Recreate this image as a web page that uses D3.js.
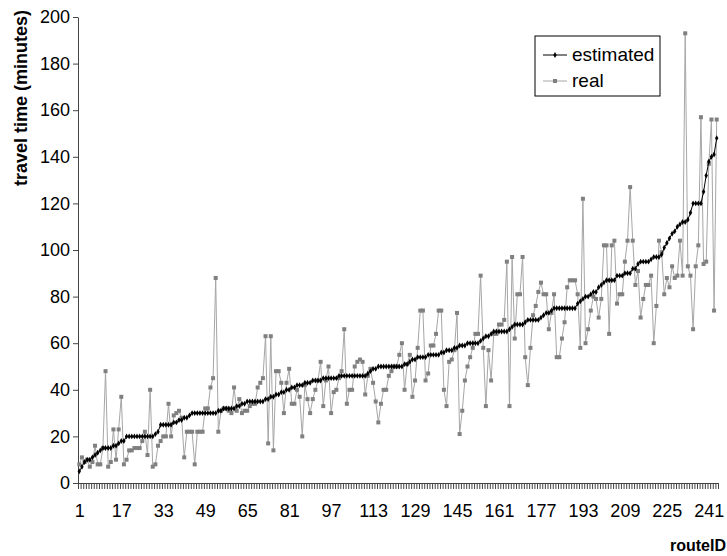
<!DOCTYPE html>
<html>
<head>
<meta charset="utf-8">
<script src="https://cdn.jsdelivr.net/npm/d3@7"></script>
<style>
  body { margin: 0; background: #fff; }
  svg { font-family: "Liberation Sans", Arial, sans-serif; }
</style>
</head>
<body>
<svg id="chart"></svg>
<script>
// routeID tick labels (every 16th route)
var xTickLabels = [1, 17, 33, 49, 65, 81, 97, 113, 129, 145, 161, 177, 193, 209, 225, 241];
var yTickValues = [0, 20, 40, 60, 80, 100, 120, 140, 160, 180, 200];
var seriesNames = ['estimated', 'real'];

// estimated travel time per route (sorted)
var estimated = [
  5, 7, 9, 10, 10, 11, 12, 13, 14, 15,
  15, 15, 15, 16, 16, 17, 18, 18, 20, 20,
  20, 20, 20, 20, 20, 20, 20, 20, 20, 21,
  22, 25, 25, 25, 25, 25, 26, 26, 27, 27,
  28, 28, 29, 30, 30, 30, 30, 30, 30, 30,
  30, 30, 30, 31, 31, 32, 32, 32, 32, 32,
  33, 33, 34, 34, 35, 35, 35, 35, 35, 35,
  35, 36, 36, 37, 37, 38, 38, 39, 39, 40,
  40, 41, 41, 42, 42, 42, 43, 43, 43, 44,
  44, 44, 44, 45, 45, 45, 45, 45, 45, 46,
  46, 46, 46, 46, 46, 46, 46, 46, 46, 46,
  47, 48, 49, 49, 50, 50, 50, 50, 50, 50,
  50, 50, 50, 50, 51, 51, 52, 53, 53, 54,
  54, 54, 54, 55, 55, 55, 55, 55, 56, 56,
  57, 57, 57, 58, 58, 59, 59, 59, 60, 60,
  60, 60, 60, 61, 62, 63, 63, 64, 65, 65,
  65, 65, 65, 65, 66, 67, 68, 68, 68, 68,
  69, 70, 70, 70, 70, 70, 71, 72, 73, 73,
  74, 75, 75, 75, 75, 75, 75, 75, 75, 75,
  77, 78, 79, 80, 80, 81, 82, 82, 84, 85,
  86, 87, 87, 87, 87, 89, 89, 89, 90, 90,
  90, 92, 92, 94, 95, 95, 95, 95, 96, 97,
  97, 97, 98, 101, 103, 105, 107, 108, 110, 111,
  112, 112, 113, 116, 120, 120, 120, 120, 125, 132,
  138, 140, 141, 148
];

// real (measured) travel time per route
var real = [
  8, 11, 9, 10, 7, 9, 16, 8, 8, 15,
  48, 7, 9, 23, 10, 23, 37, 8, 10, 14,
  14, 15, 15, 15, 18, 22, 12, 40, 7, 8,
  16, 18, 20, 20, 34, 20, 29, 30, 31, 28,
  11, 22, 22, 22, 8, 22, 22, 22, 32, 32,
  41, 45, 88, 22, 31, 32, 32, 31, 30, 41,
  31, 36, 30, 31, 31, 33, 34, 34, 41, 43,
  45, 63, 17, 63, 14, 48, 48, 43, 30, 43,
  49, 34, 34, 40, 37, 20, 42, 36, 30, 36,
  40, 44, 52, 33, 44, 50, 30, 39, 40, 45,
  48, 66, 34, 40, 40, 50, 52, 53, 52, 38,
  46, 49, 43, 35, 26, 34, 40, 40, 46, 48,
  50, 50, 55, 60, 40, 51, 55, 37, 44, 58,
  74, 74, 44, 47, 59, 59, 64, 74, 74, 40,
  33, 52, 53, 57, 73, 21, 31, 44, 50, 54,
  58, 64, 64, 89, 58, 33, 57, 44, 64, 64,
  68, 68, 70, 95, 33, 97, 62, 81, 81, 97,
  54, 42, 58, 72, 76, 82, 86, 81, 81, 66,
  73, 81, 54, 54, 62, 69, 84, 87, 87, 87,
  81, 58, 122, 60, 66, 74, 80, 79, 71, 79,
  102, 102, 64, 102, 104, 77, 81, 81, 95, 104,
  127, 104, 85, 91, 71, 79, 85, 85, 89, 60,
  76, 104, 99, 81, 88, 84, 93, 88, 89, 104,
  89, 193, 93, 89, 66, 93, 102, 157, 94, 95,
  137, 156, 74, 156
];

var width = 727, height = 556;
var plotLeft = 78, plotRight = 718, plotTop = 17, plotBottom = 483;
var n = estimated.length;

var svg = d3.select('#chart').attr('width', width).attr('height', height);

var x = d3.scaleLinear().domain([0.5, n + 0.5]).range([plotLeft, plotRight]);
var y = d3.scaleLinear().domain([0, 200]).range([plotBottom, plotTop]);

// x axis: a tick between every category, labels every 16 routes
svg.append('g')
    .attr('transform', 'translate(0,' + plotBottom + ')')
    .call(d3.axisBottom(x).tickValues(d3.range(0.5, n + 1, 1)).tickSize(6).tickFormat(''))
    .call(function (g) {
        g.select('.domain').attr('stroke', '#444');
        g.selectAll('.tick line').attr('stroke', '#444');
    });
svg.append('g')
    .attr('transform', 'translate(0,' + plotBottom + ')')
    .call(d3.axisBottom(x).tickValues(xTickLabels).tickSize(0).tickPadding(21))
    .call(function (g) {
        g.select('.domain').remove();
        g.selectAll('text').attr('font-size', 18).attr('fill', '#000')
            .attr('font-family', '"Liberation Sans", Arial, sans-serif');
    });

// y axis
svg.append('g')
    .attr('transform', 'translate(' + plotLeft + ',0)')
    .call(d3.axisLeft(y).tickValues(yTickValues).tickSize(5).tickPadding(3).tickSizeOuter(0))
    .call(function (g) {
        g.select('.domain').attr('stroke', '#444');
        g.selectAll('.tick line').attr('stroke', '#444');
        g.selectAll('text').attr('font-size', 18).attr('fill', '#000')
            .attr('font-family', '"Liberation Sans", Arial, sans-serif');
    });

// axis titles
svg.append('text')
    .attr('transform', 'translate(27,10) rotate(-90)')
    .attr('text-anchor', 'end')
    .attr('font-size', 18).attr('font-weight', 'bold')
    .text('travel time (minutes)');
svg.append('text')
    .attr('x', 726).attr('y', 551)
    .attr('text-anchor', 'end')
    .attr('font-size', 16).attr('font-weight', 'bold')
    .text('routeID');

var line = d3.line()
    .x(function (d, i) { return x(i + 1); })
    .y(function (d) { return y(d); });

// real series (gray line, square markers)
svg.append('path').datum(real)
    .attr('d', line).attr('fill', 'none')
    .attr('stroke', '#a6a6a6').attr('stroke-width', 1);
svg.selectAll('.realPt').data(real).enter().append('rect')
    .attr('class', 'realPt')
    .attr('x', function (d, i) { return x(i + 1) - 2; })
    .attr('y', function (d) { return y(d) - 2; })
    .attr('width', 4).attr('height', 4)
    .attr('fill', '#808080');

// estimated series (black line, small diamond markers)
svg.append('path').datum(estimated)
    .attr('d', line).attr('fill', 'none')
    .attr('stroke', '#000').attr('stroke-width', 1);
var diamond = d3.symbol().type(d3.symbolDiamond).size(10);
svg.selectAll('.estPt').data(estimated).enter().append('path')
    .attr('class', 'estPt')
    .attr('d', diamond)
    .attr('transform', function (d, i) { return 'translate(' + x(i + 1) + ',' + y(d) + ')'; })
    .attr('fill', '#000');

// legend
var lg = svg.append('g').attr('transform', 'translate(535,36)');
lg.append('rect').attr('width', 125).attr('height', 60)
    .attr('fill', '#fff').attr('stroke', '#000');
var legendColors = { estimated: '#000', real: '#a6a6a6' };
seriesNames.forEach(function (name, k) {
    var ly = 19 + k * 26;
    lg.append('line').attr('x1', 8).attr('x2', 32).attr('y1', ly).attr('y2', ly)
        .attr('stroke', legendColors[name]);
    if (name === 'estimated') {
        lg.append('path').attr('d', diamond).attr('transform', 'translate(20,' + ly + ')').attr('fill', '#000');
    } else {
        lg.append('rect').attr('x', 18).attr('y', ly - 2).attr('width', 4).attr('height', 4).attr('fill', '#808080');
    }
    lg.append('text').attr('x', 37).attr('y', ly + 6)
        .attr('font-size', 19).text(name);
});
</script>
</body>
</html>
